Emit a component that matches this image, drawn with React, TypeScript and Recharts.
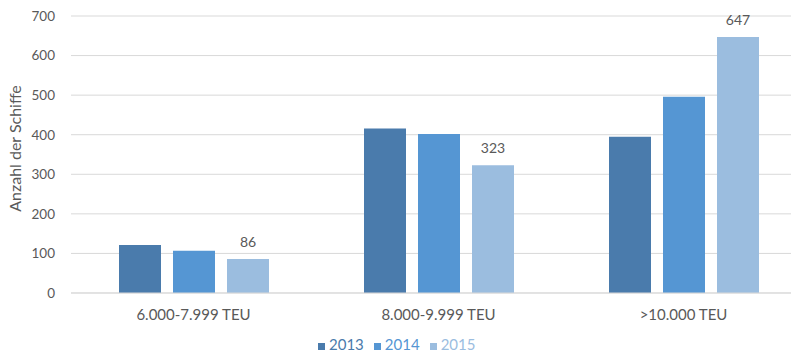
import { BarChart, Bar, XAxis, YAxis, CartesianGrid, Legend, LabelList } from 'recharts';

const categories = ['6.000-7.999 TEU', '8.000-9.999 TEU', '>10.000 TEU'];
const values2013 = [121, 416, 395];
const values2014 = [107, 402, 496];
const values2015 = [86, 323, 647];
const yTicks = [0, 100, 200, 300, 400, 500, 600, 700];

const data = categories.map((c, i) => ({
  name: c,
  y2013: values2013[i],
  y2014: values2014[i],
  y2015: values2015[i],
}));

const font = 'Lato, "Open Sans", sans-serif';
const textColor = '#595959';

export default function App() {
  return (
    <div style={{ margin: -8, width: 799, height: 361, position: 'relative', background: '#fff' }}>
      <BarChart
        width={799}
        height={361}
        data={data}
        margin={{ top: 16, right: -7, bottom: 0, left: 0 }}
        barSize={42}
        barGap={12}
        style={{ fontFamily: font }}
      >
        <CartesianGrid vertical={false} stroke="#d9d9d9" />
        <XAxis
          dataKey="name"
          axisLine={{ stroke: '#d9d9d9' }}
          tickLine={false}
          tickMargin={10}
          height={46}
          tick={{ fill: textColor, fontSize: 15 }}
        />
        <YAxis
          domain={[0, 700]}
          ticks={yTicks}
          axisLine={false}
          tickLine={false}
          tickMargin={10}
          width={71}
          tick={{ fill: textColor, fontSize: 13.5 }}
          label={{ value: 'Anzahl der Schiffe', angle: -90, position: 'center', dx: -20, dy: -6, fill: textColor, fontSize: 16 }}
        />
        <Legend
          iconType="square"
          iconSize={7}
          wrapperStyle={{ fontSize: 15, color: textColor, top: 334, bottom: 'auto', left: 318, width: 'auto', height: 22, lineHeight: '20px' }}
        />
        <Bar dataKey="y2013" name="2013" fill="#4A7BAC" isAnimationActive={false} />
        <Bar dataKey="y2014" name="2014" fill="#5596D3" isAnimationActive={false} />
        <Bar dataKey="y2015" name="2015" fill="#9BBDDF" isAnimationActive={false}>
          <LabelList dataKey="y2015" position="top" offset={12} fill={textColor} fontSize={14} />
        </Bar>
      </BarChart>
    </div>
  );
}
